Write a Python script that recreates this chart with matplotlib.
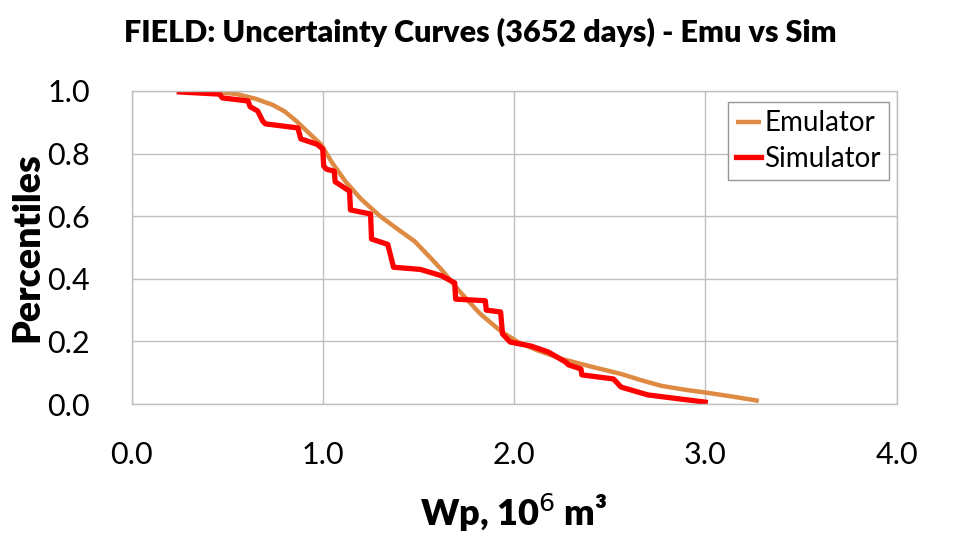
import matplotlib
matplotlib.use("Agg")
import matplotlib.pyplot as plt

plt.rcParams['font.family'] = ['Lato', 'DejaVu Sans']

# Emulator curve (Wp, 10^6 m3 vs percentile)
emu_wp = [0.45, 0.55, 0.65, 0.74, 0.80, 0.86, 0.92, 0.99, 1.05, 1.12, 1.20, 1.30, 1.40, 1.48, 1.565, 1.62, 1.72, 1.82, 1.93, 2.02, 2.12, 2.25, 2.40, 2.56, 2.66, 2.77, 2.90, 3.02, 3.15, 3.28]
emu_p  = [0.997, 0.99, 0.975, 0.955, 0.935, 0.905, 0.87, 0.83, 0.77, 0.71, 0.655, 0.60, 0.555, 0.52, 0.466, 0.43, 0.357, 0.29, 0.233, 0.198, 0.172, 0.144, 0.12, 0.096, 0.077, 0.058, 0.045, 0.035, 0.023, 0.01]

# Simulator curve
sim_wp = [0.25, 0.46, 0.475, 0.61, 0.62, 0.66, 0.686, 0.70, 0.87, 0.885, 0.97, 1.00, 1.005, 1.02, 1.06, 1.065, 1.14, 1.145, 1.25, 1.255, 1.34, 1.37, 1.51, 1.62, 1.69, 1.695, 1.85, 1.855, 1.93, 1.94, 1.98, 2.09, 2.18, 2.27, 2.285, 2.35, 2.355, 2.52, 2.56, 2.70, 3.00]
sim_p  = [0.997, 0.99, 0.978, 0.968, 0.95, 0.936, 0.904, 0.895, 0.882, 0.847, 0.83, 0.815, 0.76, 0.75, 0.744, 0.71, 0.68, 0.62, 0.607, 0.527, 0.51, 0.437, 0.43, 0.41, 0.387, 0.335, 0.33, 0.30, 0.294, 0.224, 0.198, 0.185, 0.166, 0.134, 0.125, 0.112, 0.093, 0.08, 0.054, 0.029, 0.006]

x_ticks = [0.0, 1.0, 2.0, 3.0, 4.0]
y_ticks = [0.0, 0.2, 0.4, 0.6, 0.8, 1.0]

fig = plt.figure(figsize=(9.61, 5.54), dpi=100)
ax = fig.add_axes([131.5/961, 1 - 404/554, (896.5-131.5)/961, (404-91)/554])

ax.plot(emu_wp, emu_p, color='#DE8A42', lw=3.2, label='Emulator', solid_capstyle='butt', solid_joinstyle='round')
ax.plot(sim_wp, sim_p, color='#FF0000', lw=3.8, label='Simulator', solid_joinstyle='round')

ax.set_xlim(0, 4)
ax.set_ylim(0, 1)
ax.set_xticks(x_ticks)
ax.set_yticks(y_ticks)
ax.set_xticklabels([f"{v:.1f}" for v in x_ticks])
ax.set_yticklabels([f"{v:.1f}" for v in y_ticks])
ax.tick_params(length=0, labelsize=22)
ax.tick_params(axis='y', pad=30)
ax.tick_params(axis='x', pad=27)
ax.grid(True, color='#BFBFBF', lw=1)
ax.set_axisbelow(True)
for s in ax.spines.values():
    s.set_color('#BFBFBF')
    s.set_linewidth(1)

ax.set_xlabel('Wp, 10$^{6}$ m³', fontsize=26, fontweight='heavy', labelpad=16)
ax.set_ylabel('Percentiles', fontsize=27, fontweight='heavy', va='center')
ax.yaxis.set_label_coords(-0.1365, 0.5)
fig.suptitle('FIELD: Uncertainty Curves (3652 days) - Emu vs Sim', fontsize=22, fontweight='heavy', y=0.967)

leg = ax.legend(loc='upper right', bbox_to_anchor=(0.99, 0.965), fontsize=20, frameon=True,
                fancybox=False, edgecolor='#7F7F7F', handlelength=0.9, handletextpad=0.1,
                borderpad=0.3, labelspacing=0.35, borderaxespad=0)
leg.get_frame().set_linewidth(1)

fig.savefig('out.png', dpi=100)
